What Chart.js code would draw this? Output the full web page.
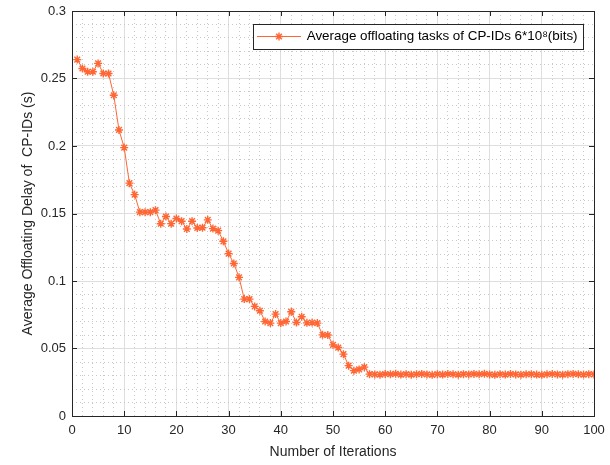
<!DOCTYPE html>
<html>
<head>
<meta charset="utf-8">
<script src="https://cdn.jsdelivr.net/npm/chart.js@4/dist/chart.umd.min.js"></script>
<style>
    html, body { margin: 0; padding: 0; background: #fff; }
</style>
</head>
<body>
<canvas id="delayChart" width="610" height="465"></canvas>
<script>
// iteration index 1..100 (x values)
const iterations = Array.from({ length: 100 }, (_, i) => i + 1);

// average offloading delay (s)
const avgDelay = [
    0.2640, 0.2574, 0.2550, 0.2550, 0.2612, 0.2537, 0.2537, 0.2376, 0.2119, 0.1988,
    0.1725, 0.1640, 0.1510, 0.1510, 0.1510, 0.1525, 0.1424, 0.1478, 0.1425, 0.1463,
    0.1443, 0.1385, 0.1443, 0.1393, 0.1395, 0.1453, 0.1388, 0.1373, 0.1294, 0.1203,
    0.1130, 0.1027, 0.0866, 0.0866, 0.0812, 0.0780, 0.0700, 0.0688, 0.0755, 0.0688,
    0.0700, 0.0772, 0.0693, 0.0735, 0.0690, 0.0692, 0.0688, 0.0601, 0.0600, 0.0527,
    0.0507, 0.0458, 0.0373, 0.0336, 0.0345, 0.0362, 0.0310, 0.0308, 0.0306, 0.0311,
    0.0309, 0.0313, 0.0307, 0.0310, 0.0306, 0.0309, 0.0312, 0.0308, 0.0305, 0.0310,
    0.0307, 0.0311, 0.0309, 0.0306, 0.0310, 0.0308, 0.0312, 0.0309, 0.0313, 0.0308,
    0.0305, 0.0309, 0.0307, 0.0311, 0.0308, 0.0306, 0.0309, 0.0310, 0.0307, 0.0305,
    0.0309, 0.0311, 0.0308, 0.0306, 0.0310, 0.0312, 0.0309, 0.0307, 0.0310, 0.0308
];

const seriesLabel = 'Average offloating tasks of CP-IDs 6*10\u2078(bits)';

const xMajorTicks = [0, 10, 20, 30, 40, 50, 60, 70, 80, 90, 100];
const yMajorTicks = [0, 0.05, 0.1, 0.15, 0.2, 0.25, 0.3];
const yTickLabels = ['0', '0.05', '0.1', '0.15', '0.2', '0.25', '0.3'];

const lineColor = '#ff6633';
const axisColor = '#262626';

Chart.defaults.font.family = '"Liberation Sans", Arial, Helvetica, sans-serif';

function isMajorX(v) {
    return xMajorTicks.includes(Math.round(v));
}
function yMajorIndex(v) {
    return yMajorTicks.findIndex(t => Math.abs(t - v) < 1e-6);
}

// legend icon: short line with a star marker on it
function makeLegendIcon() {
    const c = document.createElement('canvas');
    c.width = 44;
    c.height = 12;
    const g = c.getContext('2d');
    g.strokeStyle = lineColor;
    g.lineWidth = 1;
    g.beginPath();
    g.moveTo(0, 6.5);
    g.lineTo(44, 6.5);
    g.stroke();
    g.fillStyle = lineColor;
    g.lineWidth = 1.4;
    Chart.helpers.drawPoint(g, { pointStyle: 'star', radius: 4, rotation: 0, borderWidth: 1.4 }, 22, 6.5);
    return c;
}
const legendIcon = makeLegendIcon();

// where the legend entry sits inside the axes (left edge of the line sample, centre y)
const legendPos = { x: 258, cy: 36 };

const matlabFrame = {
    id: 'matlabFrame',
    beforeDraw(chart) {
        // move the legend entry to the upper right, as in the original figure
        const lg = chart.legend;
        const hb = lg.legendHitBoxes[0];
        const pad = lg.options.labels.padding;
        if (!hb) return;
        lg.left = legendPos.x - pad;
        lg.top = legendPos.cy - hb.height / 2 - pad;
    },
    afterDraw(chart) {
        const { ctx, chartArea: a, scales: { x, y } } = chart;
        ctx.save();
        ctx.strokeStyle = axisColor;
        ctx.lineWidth = 1;
        ctx.beginPath();
        xMajorTicks.forEach(v => {
            const px = Math.round(x.getPixelForValue(v)) + 0.5;
            ctx.moveTo(px, a.bottom);
            ctx.lineTo(px, a.bottom - 5);
            ctx.moveTo(px, a.top);
            ctx.lineTo(px, a.top + 5);
        });
        yMajorTicks.forEach(v => {
            const py = Math.round(y.getPixelForValue(v)) + 0.5;
            ctx.moveTo(a.left, py);
            ctx.lineTo(a.left + 5, py);
            ctx.moveTo(a.right, py);
            ctx.lineTo(a.right - 5, py);
        });
        ctx.stroke();
        ctx.strokeRect(Math.round(a.left) + 0.5, Math.round(a.top) + 0.5,
            Math.round(a.right - a.left), Math.round(a.bottom - a.top));

        // white legend box with a dark frame, legend drawn again on top
        const hb = chart.legend.legendHitBoxes[0];
        if (hb) {
            const left = Math.round(legendPos.x - 5) + 0.5;
            const right = Math.round(legendPos.x + hb.width + 5) + 0.5;
            const top = Math.round(legendPos.cy - 12.5) + 0.5;
            ctx.fillStyle = '#fff';
            ctx.fillRect(left, top, right - left, 25);
            ctx.strokeRect(left, top, right - left, 25);
            ctx.restore();
            chart.legend.draw();
            return;
        }
        ctx.restore();
    }
};

const chart = new Chart(document.getElementById('delayChart'), {
    type: 'line',
    data: {
        labels: iterations,
        datasets: [{
            label: seriesLabel,
            data: avgDelay,
            borderColor: lineColor,
            backgroundColor: lineColor,
            borderWidth: 1,
            pointStyle: 'star',
            pointRadius: 4,
            pointBorderWidth: 1.4,
            tension: 0
        }]
    },
    options: {
        responsive: false,
        animation: false,
        devicePixelRatio: 1,
        layout: { padding: { top: 11, right: 16, left: 0, bottom: 0 } },
        scales: {
            x: {
                type: 'linear',
                min: 0,
                max: 100,
                ticks: {
                    stepSize: 2,
                    autoSkip: false,
                    maxRotation: 0,
                    padding: 7,
                    color: axisColor,
                    font: { size: 13 },
                    callback: v => isMajorX(v) ? String(Math.round(v)) : ''
                },
                grid: {
                    drawTicks: false,
                    color: c => (c.tick && isMajorX(c.tick.value)) ? '#dedede' : '#c8c8c8',
                    lineWidth: 1
                },
                border: {
                    display: false,
                    dash: c => (c.tick && isMajorX(c.tick.value)) ? [] : [1, 3]
                },
                title: {
                    display: true,
                    text: 'Number of Iterations',
                    color: axisColor,
                    font: { size: 14 },
                    padding: { top: 0, bottom: 4 }
                },
                afterFit: s => {
                    s.height = 49;
                    s.paddingLeft = 0;
                    s.paddingRight = 0;
                }
            },
            y: {
                min: 0,
                max: 0.3,
                ticks: {
                    stepSize: 0.01,
                    autoSkip: false,
                    padding: 6,
                    color: axisColor,
                    font: { size: 13 },
                    callback: v => {
                        const i = yMajorIndex(v);
                        return i >= 0 ? yTickLabels[i] : '';
                    }
                },
                grid: {
                    drawTicks: false,
                    color: c => (c.tick && yMajorIndex(c.tick.value) >= 0) ? '#dedede' : '#c8c8c8',
                    lineWidth: 1
                },
                border: {
                    display: false,
                    dash: c => (c.tick && yMajorIndex(c.tick.value) >= 0) ? [] : [1, 3]
                },
                title: {
                    display: true,
                    text: 'Average Offloating Delay of  CP-IDs (s)',
                    color: axisColor,
                    font: { size: 14 },
                    padding: { top: 20, bottom: 0 }
                },
                afterFit: s => {
                    s.width = 72;
                    s.paddingTop = 0;
                    s.paddingBottom = 0;
                }
            }
        },
        plugins: {
            tooltip: { enabled: false },
            legend: {
                position: 'chartArea',
                align: 'start',
                labels: {
                    usePointStyle: true,
                    pointStyleWidth: 42,
                    boxHeight: 12,
                    padding: 10,
                    color: '#000',
                    font: { size: 13.4 },
                    generateLabels: () => [{
                        text: seriesLabel,
                        pointStyle: legendIcon,
                        fillStyle: lineColor,
                        strokeStyle: lineColor,
                        lineWidth: 0,
                        fontColor: '#000',
                        hidden: false,
                        datasetIndex: 0
                    }]
                }
            }
        }
    },
    plugins: [matlabFrame]
});
</script>
</body>
</html>
